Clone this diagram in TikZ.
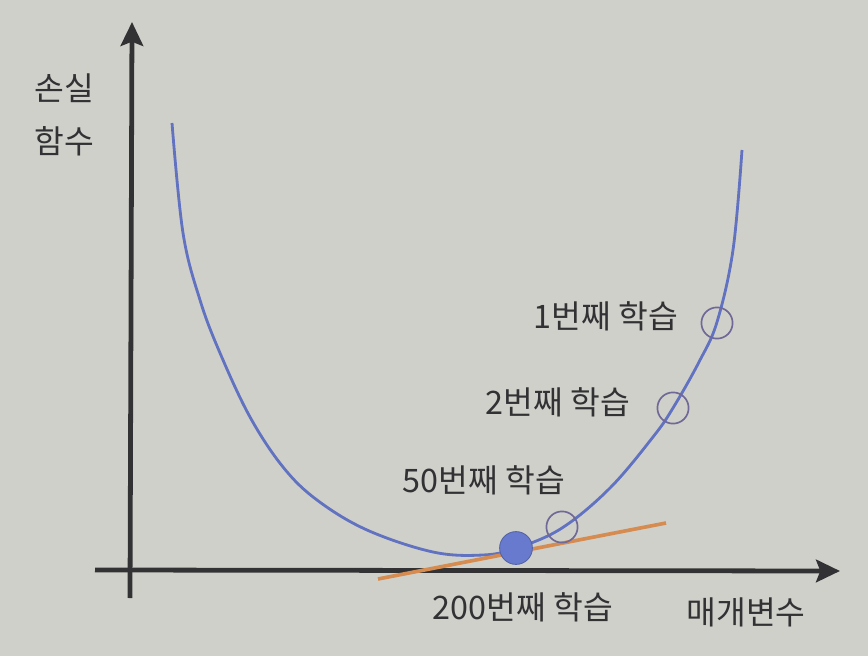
\documentclass[tikz,border=0pt]{standalone}
\usepackage{fontspec}
\newfontfamily\krfont{Noto Sans CJK KR}
\usepackage{tikz}
\usetikzlibrary{arrows.meta}
\definecolor{paper}{RGB}{208,208,203}
\definecolor{ink}{RGB}{50,50,52}
\definecolor{curveblue}{RGB}{96,114,192}
\definecolor{dotblue}{RGB}{104,122,205}
\definecolor{tanorange}{RGB}{214,140,80}
\definecolor{ringpurple}{RGB}{112,104,150}

\begin{document}
\begin{tikzpicture}[x=0.025cm,y=-0.025cm,
        axis/.style={ink, line width=3.4pt, -{Stealth[length=17pt,width=16pt,inset=3pt]}},
        lbl/.style={font=\krfont\fontsize{23}{27}\selectfont, text=ink, inner sep=0pt},
        ring/.style={circle, draw=ringpurple, line width=1.2pt, minimum size=0.78cm, inner sep=0pt},
        ball/.style={circle, fill=dotblue, draw=dotblue!80!black, line width=0.6pt, minimum size=0.82cm, inner sep=0pt}]
        \fill[paper] (0,0) rectangle (868,656);
        \useasboundingbox (0,0) rectangle (868,656);
        % axes
        \coordinate (ybot) at (130,598);
        \coordinate (ytop) at (132,22);
        \coordinate (xleft) at (95,570);
        \coordinate (xright) at (840,571);
        \draw[axis] (ybot) -- (ytop);
        \draw[axis] (xleft) -- (xright);
        % loss curve
        \draw[curveblue, line width=2pt] plot[smooth, tension=0.6] coordinates {
            (172,123) (183,233) (200,300) (220,353) (250,417) (283,467)
            (317,500) (367,530) (433,552) (483,555) (517,548) (562,528)
            (610,488) (653,437) (673,408) (699,362) (717,322) (733,250) (742,150)};
        % tangent line at the 200th step
        \coordinate (tanA) at (378,579);
        \coordinate (tanB) at (666,523);
        \draw[tanorange, line width=2.6pt] (tanA) -- (tanB);
        % steps
        \node[ring] (step1) at (717,323) {};
        \node[ring] (step2) at (673,408) {};
        \node[ring] (step50) at (562,527) {};
        \node[ball] (step200) at (516,548) {};
        % labels
        \node[lbl] (yname1) at (64,88) {손실};
        \node[lbl] (yname2) at (64,141) {함수};
        \node[lbl] (lab1) at (606,316) {1번째 학습};
        \node[lbl] (lab2) at (558,402) {2번째 학습};
        \node[lbl] (lab50) at (484,480) {50번째 학습};
        \node[lbl] (lab200) at (523,607) {200번째 학습};
        \node[lbl] (xname) at (746,612) {매개변수};
    \end{tikzpicture}
\end{document}
